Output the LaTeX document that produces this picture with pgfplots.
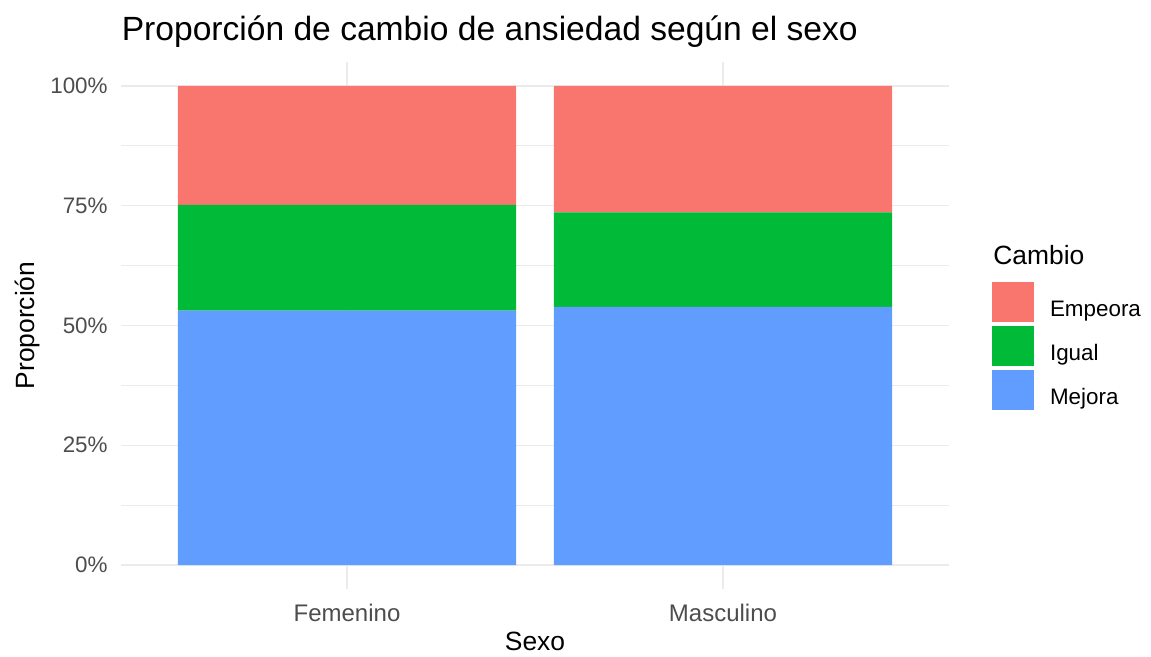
\documentclass[border=0pt]{standalone}
\usepackage{pgfplots}
\pgfplotsset{compat=1.18}
\usepackage{fontspec}
\setmainfont{Liberation Sans}
\definecolor{cEmp}{HTML}{F8766D}
\definecolor{cIg}{HTML}{00BA38}
\definecolor{cMej}{HTML}{619CFF}
\definecolor{gridc}{HTML}{EBEBEB}
\definecolor{tickc}{HTML}{4D4D4D}
\begin{document}
\begin{tikzpicture}
\path[use as bounding box] (0,0) rectangle (575.5pt,328.5pt);
\begin{axis}[
  at={(60.7pt,34pt)}, anchor=south west,
  scale only axis, width=413.6pt, height=263.5pt,
  ybar stacked, bar width=0.9,
  xmin=0.4, xmax=2.6, ymin=-0.05, ymax=1.05,
  xtick={1,2}, xticklabels={Femenino,Masculino},
  ytick={0,0.25,0.5,0.75,1},
  yticklabels={0\%,25\%,50\%,75\%,100\%},
  minor ytick={0.125,0.375,0.625,0.875},
  ymajorgrids, yminorgrids, xmajorgrids,
  major grid style={gridc, line width=0.6pt},
  minor grid style={gridc, line width=0.35pt},
  axis line style={draw=none},
  major tick style={draw=none}, minor tick style={draw=none},
  tick label style={text=tickc},
  yticklabel style={inner sep=0pt, xshift=-6.7pt, anchor=east, font=\fontsize{11.2}{13}\selectfont},
  xticklabel style={inner sep=0pt, anchor=base, yshift=-16.5pt, font=\fontsize{12}{14}\selectfont},
  xlabel={Sexo}, ylabel={Proporción},
  label style={font=\fontsize{13.2}{16}\selectfont},
  xlabel style={at={(axis description cs:0.5,-0.1176)}, anchor=base, inner sep=0pt},
  ylabel style={at={(axis description cs:-0.1045,0.5)}, anchor=base, inner sep=0pt},
  reverse legend,
  legend style={draw=none, fill=none, inner sep=0pt, outer sep=0pt,
    at={(axis description cs:1.0525,0.5825)}, anchor=north west,
    font=\fontsize{11.2}{13}\selectfont, row sep=2pt, column sep=8pt,
    nodes={inner sep=0pt}},
  legend cell align=left,
  legend image code/.code={\fill[#1] (0pt,-6pt) rectangle (21pt,14pt);},
  clip=false,
]
\addplot[fill=cMej, draw=none] coordinates {(1,0.531) (2,0.539)};
\addlegendentry{Mejora}
\addplot[fill=cIg, draw=none] coordinates {(1,0.221) (2,0.197)};
\addlegendentry{Igual}
\addplot[fill=cEmp, draw=none] coordinates {(1,0.248) (2,0.264)};
\addlegendentry{Empeora}
\node[anchor=base west, inner sep=0pt, font=\fontsize{13.2}{16}\selectfont] at (axis description cs:1.0537,0.6148) {Cambio};
\node[anchor=base west, inner sep=0pt, font=\fontsize{16.8}{20}\selectfont] at (axis description cs:0.0,1.0417) {Proporción de cambio de ansiedad según el sexo};
\end{axis}
\end{tikzpicture}
\end{document}
